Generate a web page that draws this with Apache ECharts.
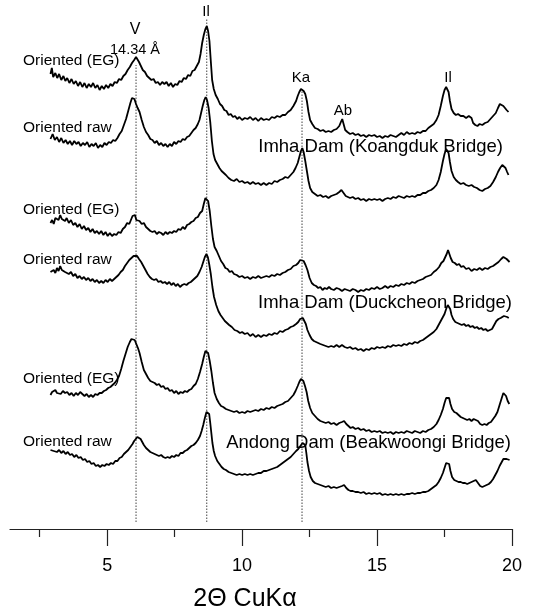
<!DOCTYPE html>
<html>
<head>
<meta charset="utf-8">
<script src="https://cdn.jsdelivr.net/npm/echarts@6/dist/echarts.min.js"></script>
<style>
  html, body { margin: 0; padding: 0; background: #fff; }
  #chart { width: 535px; height: 613px; }
</style>
</head>
<body>
<div id="chart"></div>
<script>
// XRD patterns (2θ, stacked intensity in arbitrary units), top to bottom.
const koangdukEG = [[2.90,455],[2.95,461],[3.00,452],[3.08,456],[3.15,451],[3.22,455],[3.30,449],[3.38,453],[3.45,448],[3.52,451],[3.60,446],[3.68,450],[3.76,445],[3.84,448],[3.92,443],[4.00,447],[4.08,442],[4.16,446],[4.24,441],[4.32,445],[4.40,442],[4.48,446],[4.56,441],[4.64,444],[4.72,439],[4.80,443],[4.88,440],[4.96,444],[5.04,441],[5.12,445],[5.20,443],[5.28,447],[5.36,446],[5.44,450],[5.52,449],[5.60,453],[5.68,455],[5.76,459],[5.84,462],[5.92,466],[6.00,469],[6.07,472],[6.12,470],[6.18,467],[6.25,465],[6.32,459],[6.40,457],[6.48,453],[6.56,451],[6.64,449],[6.72,450],[6.80,446],[6.88,447],[6.96,444],[7.04,447],[7.12,445],[7.20,447],[7.28,443],[7.36,446],[7.44,442],[7.52,445],[7.60,444],[7.68,448],[7.76,447],[7.84,451],[7.92,450],[8.00,454],[8.08,453],[8.16,458],[8.24,459],[8.32,463],[8.40,467],[8.46,475],[8.52,486],[8.58,494],[8.64,500],[8.69,503],[8.74,498],[8.79,488],[8.84,468],[8.89,449],[8.95,440],[9.02,434],[9.10,430],[9.18,425],[9.26,423],[9.34,419],[9.42,418],[9.50,414],[9.58,415],[9.66,412],[9.74,413],[9.82,410],[9.90,412],[10.0,409],[10.1,411],[10.2,410],[10.3,412],[10.4,409],[10.5,411],[10.6,408],[10.7,411],[10.8,409],[10.9,410],[11.0,409],[11.1,412],[11.2,411],[11.3,413],[11.4,412],[11.5,414],[11.6,414],[11.7,417],[11.8,419],[11.9,423],[12.0,428],[12.06,433],[12.12,437],[12.18,440],[12.22,441],[12.28,438],[12.34,435],[12.40,428],[12.46,417],[12.52,409],[12.60,405],[12.70,401],[12.80,400],[12.90,398],[13.0,399],[13.1,397],[13.2,398],[13.3,397],[13.4,399],[13.5,400],[13.6,403],[13.66,407],[13.71,410],[13.76,405],[13.82,399],[13.9,397],[14.0,395],[14.1,396],[14.2,394],[14.3,395],[14.4,393],[14.5,394],[14.6,392],[14.7,394],[14.8,393],[14.9,394],[15.0,392],[15.1,393],[15.2,391],[15.3,393],[15.4,392],[15.5,394],[15.6,393],[15.7,392],[15.8,394],[15.9,396],[16.0,394],[16.1,397],[16.2,395],[16.3,396],[16.4,395],[16.5,397],[16.6,396],[16.7,398],[16.8,398],[16.9,401],[17.0,403],[17.1,405],[17.2,409],[17.28,414],[17.36,423],[17.44,433],[17.50,439],[17.56,442],[17.60,442],[17.65,437],[17.70,428],[17.76,420],[17.84,416],[17.92,414],[18.0,415],[18.1,413],[18.2,413],[18.3,411],[18.4,413],[18.5,411],[18.56,406],[18.64,404],[18.72,403],[18.8,405],[18.9,404],[19.0,406],[19.1,407],[19.2,410],[19.3,413],[19.4,416],[19.48,421],[19.55,425],[19.62,426],[19.68,423],[19.74,422],[19.80,419],[19.87,417]];

const koangdukRaw = [[2.90,390],[2.98,395],[3.06,389],[3.14,392],[3.22,387],[3.30,391],[3.38,386],[3.46,389],[3.54,385],[3.62,388],[3.70,384],[3.78,388],[3.86,385],[3.94,387],[4.02,383],[4.10,386],[4.18,384],[4.26,387],[4.34,382],[4.42,385],[4.50,383],[4.58,386],[4.66,381],[4.74,384],[4.82,382],[4.90,386],[4.98,384],[5.06,387],[5.14,386],[5.22,389],[5.30,388],[5.38,391],[5.46,395],[5.54,398],[5.62,404],[5.70,410],[5.78,418],[5.86,426],[5.92,431],[5.96,433],[6.01,430],[6.07,425],[6.13,421],[6.20,417],[6.28,409],[6.36,402],[6.44,397],[6.52,394],[6.60,390],[6.68,389],[6.76,386],[6.84,388],[6.92,384],[7.00,386],[7.08,383],[7.16,385],[7.24,382],[7.32,385],[7.40,383],[7.48,387],[7.56,385],[7.64,388],[7.72,387],[7.80,390],[7.88,389],[7.96,392],[8.04,393],[8.12,396],[8.20,399],[8.28,401],[8.36,405],[8.42,409],[8.48,416],[8.54,423],[8.60,429],[8.65,432],[8.70,429],[8.76,421],[8.82,407],[8.88,388],[8.94,375],[9.00,369],[9.08,365],[9.16,361],[9.24,358],[9.32,356],[9.40,354],[9.50,351],[9.60,349],[9.70,348],[9.80,350],[9.90,347],[10.0,348],[10.1,346],[10.2,347],[10.3,345],[10.4,347],[10.5,345],[10.6,346],[10.7,344],[10.8,346],[10.9,344],[11.0,346],[11.1,345],[11.2,348],[11.3,347],[11.4,349],[11.5,350],[11.6,352],[11.7,351],[11.8,354],[11.9,357],[11.98,361],[12.06,366],[12.12,372],[12.18,378],[12.23,381],[12.28,377],[12.34,368],[12.40,358],[12.46,348],[12.52,341],[12.60,337],[12.70,335],[12.80,333],[12.90,334],[13.0,332],[13.1,333],[13.2,331],[13.3,333],[13.4,334],[13.5,335],[13.6,337],[13.68,339],[13.76,336],[13.84,333],[13.92,332],[14.0,331],[14.1,332],[14.2,330],[14.3,331],[14.4,329],[14.5,330],[14.6,328],[14.7,330],[14.8,329],[14.9,330],[15.0,329],[15.1,330],[15.2,328],[15.3,330],[15.4,331],[15.5,330],[15.6,332],[15.7,331],[15.8,333],[15.9,332],[16.0,331],[16.1,333],[16.2,332],[16.3,333],[16.4,332],[16.5,334],[16.6,334],[16.7,336],[16.8,336],[16.9,338],[17.0,339],[17.1,341],[17.2,344],[17.28,349],[17.36,357],[17.44,368],[17.50,375],[17.56,380],[17.60,381],[17.65,376],[17.70,367],[17.76,358],[17.84,352],[17.92,349],[18.0,347],[18.1,345],[18.2,346],[18.3,344],[18.4,343],[18.5,344],[18.6,342],[18.7,341],[18.8,339],[18.9,338],[19.0,340],[19.1,341],[19.2,343],[19.3,347],[19.4,352],[19.48,357],[19.56,361],[19.64,364],[19.70,364],[19.76,361],[19.82,357],[19.87,354]];

const duckcheonEG = [[2.90,306],[2.96,309],[3.02,305],[3.08,311],[3.14,313],[3.20,309],[3.26,314],[3.32,310],[3.38,312],[3.44,308],[3.50,311],[3.58,306],[3.66,309],[3.74,304],[3.82,306],[3.90,302],[3.98,305],[4.06,300],[4.14,303],[4.22,299],[4.30,301],[4.38,297],[4.46,300],[4.54,296],[4.62,298],[4.70,295],[4.78,298],[4.86,294],[4.94,297],[5.02,293],[5.10,296],[5.18,293],[5.26,295],[5.34,294],[5.42,297],[5.50,296],[5.58,300],[5.66,302],[5.74,306],[5.82,305],[5.88,309],[5.94,313],[5.98,311],[6.03,314],[6.08,309],[6.14,307],[6.20,308],[6.28,305],[6.36,306],[6.44,302],[6.52,300],[6.60,298],[6.68,297],[6.76,298],[6.84,295],[6.92,297],[7.00,296],[7.08,294],[7.16,297],[7.24,295],[7.32,297],[7.40,296],[7.48,298],[7.56,297],[7.64,300],[7.72,299],[7.80,302],[7.88,300],[7.96,304],[8.04,305],[8.12,307],[8.20,308],[8.28,311],[8.36,312],[8.44,316],[8.52,318],[8.58,325],[8.64,331],[8.69,333],[8.74,328],[8.80,318],[8.86,303],[8.92,290],[8.98,282],[9.06,278],[9.14,273],[9.22,268],[9.30,265],[9.38,261],[9.46,260],[9.54,257],[9.62,258],[9.70,255],[9.80,254],[9.90,252],[10.0,253],[10.1,251],[10.2,252],[10.3,250],[10.4,252],[10.5,251],[10.6,253],[10.7,251],[10.8,252],[10.9,253],[11.0,252],[11.1,254],[11.2,253],[11.3,255],[11.4,254],[11.5,256],[11.6,257],[11.7,259],[11.8,260],[11.9,263],[12.0,264],[12.08,266],[12.15,269],[12.22,271],[12.28,268],[12.35,264],[12.42,259],[12.50,251],[12.58,246],[12.66,244],[12.74,243],[12.82,241],[12.90,242],[12.98,239],[13.06,241],[13.14,240],[13.22,242],[13.30,240],[13.40,239],[13.50,241],[13.60,240],[13.70,238],[13.80,240],[13.90,239],[14.0,238],[14.1,240],[14.2,239],[14.3,237],[14.4,239],[14.5,238],[14.6,240],[14.7,239],[14.8,241],[14.9,240],[15.0,242],[15.1,240],[15.2,241],[15.3,243],[15.4,241],[15.5,243],[15.6,242],[15.7,244],[15.8,243],[15.9,245],[16.0,244],[16.1,246],[16.2,245],[16.3,247],[16.4,246],[16.5,248],[16.6,249],[16.7,250],[16.8,252],[16.9,253],[17.0,254],[17.1,257],[17.2,259],[17.3,262],[17.38,266],[17.46,268],[17.52,270],[17.58,275],[17.63,279],[17.68,277],[17.73,271],[17.80,267],[17.88,266],[17.96,264],[18.04,265],[18.12,262],[18.2,263],[18.3,260],[18.4,261],[18.5,258],[18.6,260],[18.7,259],[18.8,261],[18.9,259],[19.0,261],[19.1,260],[19.2,262],[19.3,263],[19.4,265],[19.5,267],[19.6,270],[19.68,272],[19.74,273],[19.80,270],[19.86,268],[19.91,267]];

const duckcheonRaw = [[2.90,257],[2.96,255],[3.02,259],[3.08,256],[3.14,261],[3.20,258],[3.26,263],[3.32,259],[3.38,261],[3.44,257],[3.50,259],[3.58,255],[3.66,257],[3.74,253],[3.82,255],[3.90,251],[3.98,253],[4.06,250],[4.14,252],[4.22,249],[4.30,251],[4.38,248],[4.46,250],[4.54,247],[4.62,249],[4.70,246],[4.78,248],[4.86,246],[4.94,249],[5.02,247],[5.10,250],[5.18,248],[5.26,250],[5.34,252],[5.42,254],[5.50,257],[5.58,259],[5.66,263],[5.74,266],[5.82,269],[5.90,271],[5.98,273],[6.05,274],[6.11,273],[6.18,270],[6.26,267],[6.34,263],[6.42,259],[6.50,255],[6.58,252],[6.66,250],[6.74,249],[6.82,250],[6.90,247],[6.98,248],[7.06,246],[7.14,247],[7.22,245],[7.30,247],[7.38,244],[7.46,246],[7.54,243],[7.62,245],[7.70,242],[7.78,244],[7.86,245],[7.94,244],[8.02,246],[8.10,247],[8.18,249],[8.26,251],[8.34,253],[8.42,257],[8.50,262],[8.56,267],[8.62,272],[8.68,275],[8.73,272],[8.78,265],[8.84,255],[8.90,242],[8.96,232],[9.04,224],[9.12,218],[9.20,214],[9.28,211],[9.36,208],[9.44,206],[9.52,204],[9.62,202],[9.72,199],[9.82,198],[9.92,196],[10.0,197],[10.1,195],[10.2,196],[10.3,193],[10.4,195],[10.5,192],[10.6,194],[10.7,192],[10.8,194],[10.9,193],[11.0,195],[11.1,194],[11.2,196],[11.3,195],[11.4,198],[11.5,197],[11.6,199],[11.7,200],[11.8,202],[11.9,203],[12.0,205],[12.08,207],[12.15,210],[12.20,212],[12.25,211],[12.30,209],[12.36,205],[12.42,199],[12.50,194],[12.58,190],[12.66,188],[12.74,187],[12.82,186],[12.90,185],[13.0,184],[13.1,183],[13.2,182],[13.3,183],[13.4,182],[13.5,184],[13.6,182],[13.7,184],[13.8,182],[13.9,181],[14.0,182],[14.1,180],[14.2,181],[14.3,179],[14.4,180],[14.5,178],[14.6,180],[14.7,179],[14.8,181],[14.9,180],[15.0,182],[15.1,181],[15.2,182],[15.3,181],[15.4,183],[15.5,182],[15.6,184],[15.7,183],[15.8,184],[15.9,183],[16.0,185],[16.1,184],[16.2,186],[16.3,185],[16.4,187],[16.5,186],[16.6,188],[16.7,189],[16.8,191],[16.9,193],[17.0,195],[17.1,197],[17.2,200],[17.28,204],[17.36,208],[17.44,212],[17.50,215],[17.56,220],[17.62,224],[17.66,225],[17.71,220],[17.76,214],[17.82,210],[17.90,207],[17.98,206],[18.06,205],[18.14,204],[18.22,205],[18.30,203],[18.38,204],[18.46,202],[18.54,203],[18.62,201],[18.70,202],[18.78,200],[18.86,201],[18.94,199],[19.02,200],[19.10,198],[19.18,199],[19.26,200],[19.34,204],[19.42,208],[19.50,210],[19.58,211],[19.64,212],[19.70,213],[19.76,211],[19.82,212],[19.88,211]];

const andongEG = [[2.90,134],[2.96,137],[3.02,135],[3.08,139],[3.14,136],[3.20,138],[3.28,135],[3.36,138],[3.44,136],[3.52,137],[3.60,134],[3.68,136],[3.76,133],[3.84,136],[3.92,134],[4.00,137],[4.08,135],[4.16,133],[4.24,135],[4.32,132],[4.40,134],[4.48,132],[4.56,135],[4.64,134],[4.72,136],[4.80,136],[4.88,138],[4.96,139],[5.04,141],[5.12,142],[5.20,144],[5.28,146],[5.36,149],[5.44,153],[5.52,160],[5.60,168],[5.68,175],[5.76,182],[5.84,187],[5.90,190],[5.96,192],[6.02,189],[6.08,185],[6.14,181],[6.20,176],[6.28,167],[6.36,159],[6.44,155],[6.52,151],[6.60,148],[6.68,147],[6.76,146],[6.84,144],[6.92,145],[7.00,142],[7.08,143],[7.16,140],[7.24,141],[7.32,138],[7.40,139],[7.48,136],[7.56,138],[7.64,135],[7.72,137],[7.80,136],[7.88,138],[7.96,137],[8.04,139],[8.12,140],[8.20,143],[8.28,145],[8.36,150],[8.44,157],[8.52,165],[8.58,172],[8.64,178],[8.69,180],[8.74,176],[8.80,168],[8.86,158],[8.92,146],[8.98,136],[9.06,130],[9.14,126],[9.22,123],[9.30,122],[9.40,120],[9.50,119],[9.60,118],[9.70,117],[9.80,118],[9.90,116],[10.0,117],[10.1,116],[10.2,118],[10.3,117],[10.4,118],[10.5,119],[10.6,118],[10.7,120],[10.8,119],[10.9,121],[11.0,120],[11.1,122],[11.2,121],[11.3,123],[11.4,124],[11.5,125],[11.6,127],[11.7,128],[11.8,131],[11.9,134],[11.98,138],[12.06,143],[12.12,147],[12.18,150],[12.22,151],[12.27,148],[12.33,143],[12.39,137],[12.45,128],[12.52,121],[12.60,116],[12.70,113],[12.80,110],[12.90,108],[13.0,107],[13.1,106],[13.2,107],[13.3,105],[13.4,106],[13.5,104],[13.6,106],[13.7,107],[13.78,108],[13.86,105],[13.94,103],[14.02,101],[14.1,102],[14.2,100],[14.3,101],[14.4,99],[14.5,100],[14.6,98],[14.7,99],[14.8,97],[14.9,98],[15.0,97],[15.1,98],[15.2,96],[15.3,97],[15.4,96],[15.5,97],[15.6,95],[15.7,97],[15.8,96],[15.9,97],[16.0,96],[16.1,98],[16.2,97],[16.3,96],[16.4,98],[16.5,97],[16.6,96],[16.7,98],[16.8,97],[16.9,99],[17.0,100],[17.1,102],[17.2,105],[17.28,109],[17.36,114],[17.44,120],[17.50,126],[17.56,131],[17.62,133],[17.67,131],[17.72,125],[17.78,120],[17.86,117],[17.94,116],[18.02,114],[18.10,112],[18.18,111],[18.26,110],[18.34,109],[18.42,110],[18.50,108],[18.58,110],[18.66,109],[18.74,108],[18.82,105],[18.90,104],[18.98,105],[19.06,104],[19.14,106],[19.22,107],[19.30,110],[19.38,113],[19.46,117],[19.54,124],[19.62,131],[19.68,136],[19.73,137],[19.78,133],[19.84,128],[19.90,125]];

const andongRaw = [[2.90,79],[2.96,81],[3.02,78],[3.08,80],[3.14,77],[3.22,79],[3.30,76],[3.38,78],[3.46,75],[3.54,77],[3.62,74],[3.70,75],[3.78,72],[3.86,74],[3.94,71],[4.02,72],[4.10,69],[4.18,70],[4.26,67],[4.34,68],[4.42,65],[4.50,66],[4.58,63],[4.66,64],[4.74,62],[4.82,64],[4.90,63],[4.98,65],[5.06,64],[5.14,66],[5.22,65],[5.30,68],[5.38,68],[5.46,71],[5.54,72],[5.62,75],[5.70,77],[5.78,79],[5.86,82],[5.94,85],[6.00,88],[6.06,90],[6.12,92],[6.18,93],[6.24,90],[6.30,87],[6.36,84],[6.44,81],[6.52,79],[6.60,77],[6.68,76],[6.76,75],[6.84,74],[6.92,73],[7.00,74],[7.08,72],[7.16,71],[7.24,72],[7.32,71],[7.40,73],[7.48,72],[7.56,74],[7.64,73],[7.72,76],[7.80,76],[7.88,78],[7.96,79],[8.04,81],[8.12,83],[8.20,84],[8.28,86],[8.36,89],[8.44,93],[8.50,98],[8.56,104],[8.62,111],[8.68,117],[8.73,119],[8.78,115],[8.82,106],[8.86,96],[8.90,86],[8.95,78],[9.00,73],[9.08,68],[9.16,65],[9.24,62],[9.32,60],[9.40,59],[9.50,57],[9.60,56],[9.70,55],[9.80,54],[9.90,55],[10.0,54],[10.1,55],[10.2,54],[10.3,55],[10.4,54],[10.5,55],[10.6,56],[10.7,56],[10.8,58],[10.9,58],[11.0,59],[11.1,60],[11.2,61],[11.3,62],[11.4,64],[11.5,66],[11.6,68],[11.7,70],[11.8,72],[11.9,75],[12.0,78],[12.08,80],[12.16,83],[12.24,86],[12.30,87],[12.34,84],[12.38,76],[12.42,67],[12.48,58],[12.54,52],[12.62,48],[12.70,46],[12.80,45],[12.90,44],[13.0,43],[13.1,42],[13.2,43],[13.3,41],[13.4,42],[13.5,41],[13.6,42],[13.7,43],[13.78,44],[13.86,41],[13.94,39],[14.02,38],[14.1,38],[14.2,37],[14.3,37],[14.4,36],[14.5,37],[14.6,35],[14.7,36],[14.8,35],[14.9,36],[15.0,35],[15.1,36],[15.2,34],[15.3,35],[15.4,34],[15.5,35],[15.6,34],[15.7,35],[15.8,34],[15.9,35],[16.0,34],[16.1,35],[16.2,35],[16.3,36],[16.4,35],[16.5,36],[16.6,36],[16.7,37],[16.8,37],[16.9,38],[17.0,40],[17.1,42],[17.2,44],[17.28,47],[17.36,51],[17.44,56],[17.50,61],[17.56,66],[17.62,68],[17.67,65],[17.72,58],[17.78,52],[17.86,49],[17.94,48],[18.02,47],[18.10,47],[18.18,46],[18.26,46],[18.34,45],[18.42,46],[18.50,47],[18.58,48],[18.66,49],[18.74,46],[18.82,43],[18.90,42],[18.98,43],[19.06,44],[19.14,45],[19.22,47],[19.30,50],[19.38,54],[19.46,58],[19.54,63],[19.62,67],[19.68,70],[19.74,71],[19.80,70],[19.86,69],[19.91,69]];

// Reference reflections: vermiculite (14.34 Å), illite, kaolinite — 2θ and top of the dotted guide
const refPeakNames = ['V', 'Il', 'Ka'];
const refPeak2Theta = [6.07, 8.69, 12.22];
const refPeakTop = [464, 511, 440];
const refPeakBottom = 7;

const majorTicks = [5, 10, 15, 20];
const minorTicks = [2.5, 7.5, 12.5, 17.5];
const xAxisTitle = '2Θ CuKα';

const traces = [koangdukEG, koangdukRaw, duckcheonEG, duckcheonRaw, andongEG, andongRaw];

const FONT = '"Liberation Sans", Arial, sans-serif';
const chart = echarts.init(document.getElementById('chart'), null, { renderer: 'canvas' });

const traceSeries = traces.map(d => ({
  type: 'line',
  data: d,
  showSymbol: false,
  symbol: 'none',
  smooth: false,
  lineStyle: { color: '#000', width: 1.8 },
  silent: true,
  z: 3
}));

const guideSeries = refPeak2Theta.map((t, i) => ({
  type: 'line',
  data: [[t, refPeakBottom], [t, refPeakTop[i]]],
  showSymbol: false,
  symbol: 'none',
  lineStyle: { color: '#444', width: 1, type: [1.5, 1.5] },
  silent: true,
  z: 2
}));

function txt(text, x, y, size, align) {
  return {
    type: 'text',
    x: x, y: y,
    z: 10,
    style: {
      text: text,
      fill: '#000',
      font: size + 'px ' + FONT,
      align: align || 'left',
      verticalAlign: 'middle'
    }
  };
}

const option = {
  backgroundColor: '#fff',
  animation: false,
  grid: { left: 10, right: 23, top: 0, bottom: 84, containLabel: false },
  xAxis: [
    {
      type: 'value',
      min: 1.4, max: 20,
      axisLine: { show: true, lineStyle: { color: '#222', width: 1.2 } },
      axisTick: { show: true, inside: false, length: 17, customValues: majorTicks, lineStyle: { color: '#222', width: 1.2 } },
      axisLabel: { show: true, customValues: majorTicks, margin: 28, fontSize: 18, fontFamily: FONT, color: '#000' },
      splitLine: { show: false }
    },
    {
      type: 'value',
      min: 1.4, max: 20,
      position: 'bottom',
      axisLine: { show: false },
      axisTick: { show: true, inside: false, length: 8, customValues: minorTicks, lineStyle: { color: '#222', width: 1.2 } },
      axisLabel: { show: false },
      splitLine: { show: false }
    }
  ],
  yAxis: { type: 'value', min: 0, max: 529, show: false },
  series: guideSeries.concat(traceSeries),
  graphic: [
    txt('Oriented (EG)', 23, 61, 15.5),
    txt('Oriented raw', 23, 128, 15.5),
    txt('Oriented (EG)', 23, 210, 15.5),
    txt('Oriented raw', 23, 260, 15.5),
    txt('Oriented (EG)', 23, 379, 15.5),
    txt('Oriented raw', 23, 442, 15.5),
    txt(refPeakNames[0], 135, 30, 16, 'center'),
    txt('14.34 Å', 110, 50, 14.5),
    txt(refPeakNames[1], 206, 12, 15, 'center'),
    txt(refPeakNames[2], 301, 78, 15, 'center'),
    txt('Ab', 343, 111, 15, 'center'),
    txt('Il', 448, 78, 15, 'center'),
    txt('Imha Dam (Koangduk Bridge)', 503, 147, 18.5, 'right'),
    txt('Imha Dam (Duckcheon Bridge)', 512, 303, 18.5, 'right'),
    txt('Andong Dam (Beakwoongi Bridge)', 511, 443, 18.5, 'right'),
    txt(xAxisTitle, 245, 599, 25, 'center')
  ]
};

chart.setOption(option);
</script>
</body>
</html>
